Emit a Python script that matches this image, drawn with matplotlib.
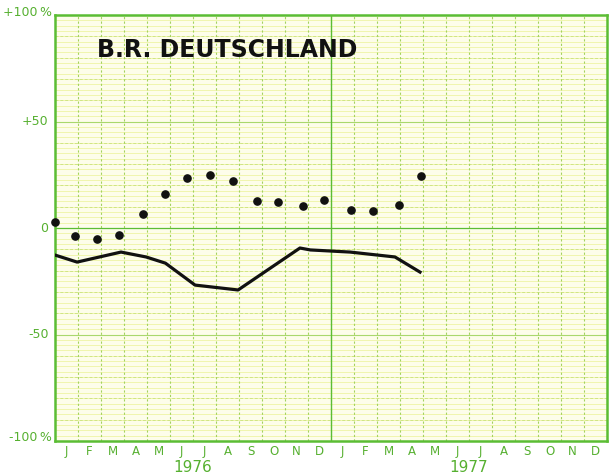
import numpy as np
import matplotlib.pyplot as plt

# Monthly survey results, Jan 1976 - May 1977 (month index from Jan 1976, % balance)
dot_month = [0.0, 0.87, 1.83, 2.78, 3.83, 4.78, 5.74, 6.74, 7.74,
             8.78, 9.7, 10.78, 11.7, 12.87, 13.83, 14.96, 15.9]
dot_value = [2.8, -3.8, -5.2, -3.3, 6.5, 16, 23.5, 25, 22,
             12.7, 12.2, 10.3, 13.1, 8.4, 8, 10.8, 24.4]

line_month = [0.0, 0.96, 2.87, 3.96, 4.8, 6.09, 7.96, 10.65, 11.1, 12.83, 14.78, 15.87]
line_value = [-12.7, -16, -11.3, -13.6, -16.5, -26.8, -29.1, -9.4, -10.3, -11.3, -13.6, -20.7]

months = ['J', 'F', 'M', 'A', 'M', 'J', 'J', 'A', 'S', 'O', 'N', 'D'] * 2
years = ['1976', '1977']
ytick_vals = [101, 50, 0, -50, -98.5]
ytick_text = ['+100\u2009%', '+50', '0', '-50', '-100\u2009%']
ytick_x = [-0.005, -0.012, -0.012, -0.012, -0.005]

green = '#5bbd34'
txt_green = '#56b030'

fig = plt.figure(figsize=(6.16, 4.76), dpi=100)
ax = fig.add_axes([55 / 616, 1 - 441 / 476, 552 / 616, 426 / 476])
ax.set_facecolor('#fdfdea')
ax.set_xlim(0, 24)
ax.set_ylim(-100, 100)

# graph-paper grid
for v in np.arange(-100, 100.1, 2.5):
    ax.axhline(v, color='#eef4a4', lw=0.6, zorder=0)
for v in np.arange(-90, 91, 10):
    ax.axhline(v, color='#cfe584', lw=0.7, ls=(0, (3, 2)), zorder=0)
for m in range(1, 24):
    ax.axvline(m, color='#a3d25e', lw=0.8, ls=(0, (2, 2)), zorder=0)
for v in [-50, 50]:
    ax.axhline(v, color='#a9d86c', lw=0.8, zorder=1)
ax.axhline(0, color=green, lw=0.9, zorder=1)
ax.axvline(12, color=green, lw=1.0, zorder=1)

ax.plot(line_month, line_value, color='#111111', lw=2.3, solid_joinstyle='round', zorder=3)
ax.plot(dot_month, dot_value, 'o', color='#111111', ms=5.2, zorder=3, clip_on=False)

for s in ax.spines.values():
    s.set_color(green)
    s.set_linewidth(1.8)

ax.set_xticks(np.arange(24) + 0.5)
ax.set_xticklabels(months, color=txt_green, fontsize=8.5)
ax.set_yticks([])
ax.tick_params(length=0)
ax.tick_params(axis='x', pad=3)

# y labels drawn as text so each can sit where it belongs
for x, v, t in zip(ytick_x, ytick_vals, ytick_text):
    ax.text(x, v, t, transform=ax.get_yaxis_transform(), ha='right', va='center',
            color=txt_green, fontsize=9)

for i, yr in enumerate(years):
    ax.text(6 + 12 * i, -0.063, yr, transform=ax.get_xaxis_transform(),
            ha='center', va='center', color=txt_green, fontsize=11)

ax.text(1.82, 83.6, 'B.R. DEUTSCHLAND', fontsize=17, fontweight='bold',
        color='#111111', va='center', ha='left', zorder=4)

fig.savefig('out.png', dpi=100)
